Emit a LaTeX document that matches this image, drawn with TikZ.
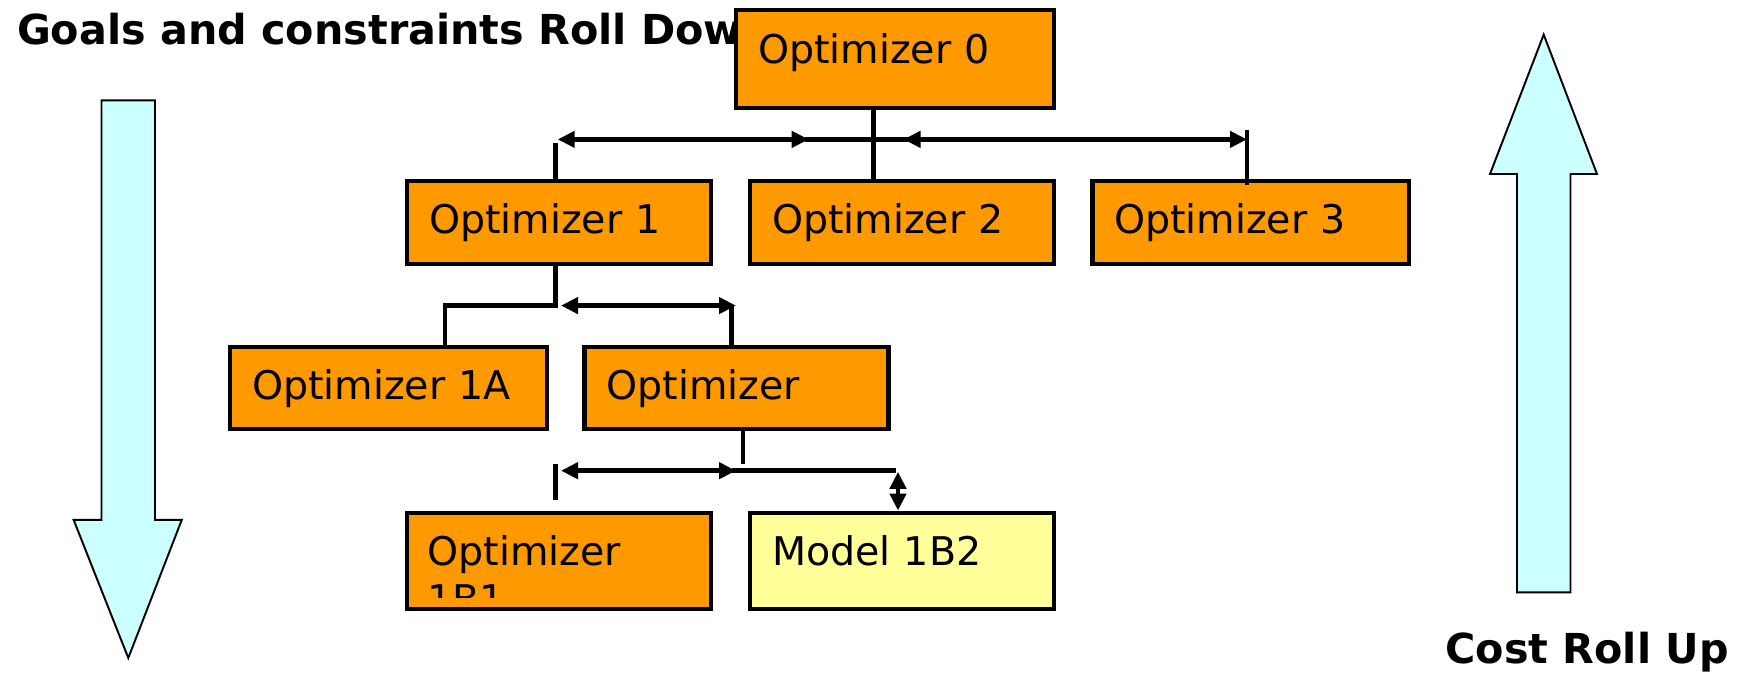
\documentclass[tikz,border=0pt]{standalone}
\usepackage{fontspec}
\setmainfont{DejaVu Sans}
\usepackage{tikz}
\usetikzlibrary{calc,arrows.meta}
\definecolor{optorange}{HTML}{FF9900}
\definecolor{modelyellow}{HTML}{FFFF99}
\definecolor{rollcyan}{HTML}{CCFFFF}
\tikzstyle{optbox}    = [rectangle, draw=black, line width=2.8pt, fill=optorange, font=\fontsize{22.5}{27}\selectfont, align=left, inner xsep=0.44cm, inner ysep=0pt, text height=0.6cm, text depth=0.15cm]
\tikzstyle{modelbox}  = [optbox, fill=modelyellow]
\tikzstyle{opttext}   = [font=\fontsize{22.5}{27}\selectfont, align=left, inner sep=0pt]
\tikzstyle{wire}      = [line width=2.7pt]
\tikzstyle{link}      = [wire, {Triangle[length=0.34cm,width=0.32cm]}-{Triangle[length=0.34cm,width=0.32cm]}]
\tikzstyle{rollarrow} = [draw=black, line width=1.1pt, fill=rollcyan]
\tikzstyle{heading}   = [font=\fontsize{23.5}{28}\selectfont\bfseries, inner sep=0pt]

\begin{document}
\begin{tikzpicture}[x=0.02cm, y=-0.02cm]
	\useasboundingbox (0,0) rectangle (1749,675);

	\draw[rollarrow] (101.5,100.4) -- (155,100.4) -- (155,519.8) -- (181.8,519.8) -- (128.3,658) -- (73.6,519.8) -- (101.5,519.8) -- cycle;
	\draw[rollarrow] (1517,592.3) -- (1570.5,592.3) -- (1570.5,174) -- (1597,174) -- (1543.7,34.6) -- (1490,174) -- (1517,174) -- cycle;

	\node[heading, anchor=base west] (down) at (16.7,44.6) {Goals and constraints Roll Down};
	\node[heading, anchor=base east] (up) at (1729,663.7) {Cost Roll Up};

	\node[optbox, text width=5.48cm, minimum height=1.96cm, text depth=0.4cm] (opt0) at (895,59) {Optimizer 0};
	\node[optbox, text width=5.2cm, minimum height=1.66cm] (opt1) at (559,222.5) {Optimizer 1};
	\node[optbox, text width=5.2cm, minimum height=1.66cm] (opt2) at (902,222.5) {Optimizer 2};
	\node[optbox, text width=5.46cm, minimum height=1.66cm] (opt3) at (1250.5,222.5) {Optimizer 3};
	\node[optbox, text width=5.46cm, minimum height=1.64cm] (opt1a) at (388.5,388) {Optimizer 1A};
	\node[optbox, text width=5.21cm, minimum height=1.64cm] (opt1b) at (736.7,388) {Optimizer};
	\node[optbox, text width=5.2cm, minimum height=1.92cm] (opt1b1) at (559,561) {};
	\node[modelbox, text width=5.2cm, minimum height=1.92cm, text depth=0.42cm] (model) at (902,561) {Model 1B2};

	\coordinate (cut) at (0,598);
	\begin{scope}
		\clip (opt1b1.north west) rectangle (opt1b1.east |- cut);
		\node[opttext, anchor=north west] (opt1b1txt) at (427,535.4) {Optimizer\\1B1};
	\end{scope}

	\coordinate (s0)  at (873.4,139.4);
	\coordinate (b0a) at (557.7,139.4);
	\coordinate (b0b) at (808.7,139.4);
	\coordinate (b0c) at (903.5,139.4);
	\coordinate (b0d) at (1247,139.4);
	\coordinate (t1)  at (555.5,142.8);
	\coordinate (t3)  at (1247,130.5);
	\draw[wire] (opt0.south -| s0) -- (opt2.north -| s0);
	\draw[link] (b0a) -- (b0b);
	\draw[wire] ($(b0b)+(-4,0)$) -- ($(b0c)+(4,0)$);
	\draw[link] (b0c) -- (b0d);
	\draw[wire] (t1) -- (opt1.north -| t1);
	\draw[wire] (t3) -- ($(opt3.north -| t3)+(0,6)$);

	\coordinate (b1a) at (445,305.6);
	\coordinate (b1b) at (555.5,305.6);
	\coordinate (b1c) at (561,305.6);
	\coordinate (b1d) at (736,305.6);
	\coordinate (t1b) at (731.7,305.6);
	\draw[wire] (opt1.south -| b1b) -- (b1b) -- (b1a) -- (opt1a.north -| b1a);
	\draw[link] (b1c) -- (b1d);
	\draw[wire] (t1b) -- (opt1b.north -| t1b);

	\coordinate (s2)  at (742.9,464);
	\coordinate (b2a) at (561,470.7);
	\coordinate (b2b) at (736,470.7);
	\coordinate (b2c) at (895.7,470.7);
	\coordinate (t2)  at (555.5,464);
	\coordinate (m2)  at (898,471.8);
	\draw[wire] ($(opt1b.south -| s2)+(0,-3)$) -- (s2);
	\draw[link] (b2a) -- (b2b);
	\draw[wire] ($(b2b)+(-4,0)$) -- (b2c);
	\draw[wire] (t2) -- ($(opt1b1.north -| t2)+(0,-11)$);
	\draw[link] (m2) -- (model.north -| m2);
\end{tikzpicture}
\end{document}
